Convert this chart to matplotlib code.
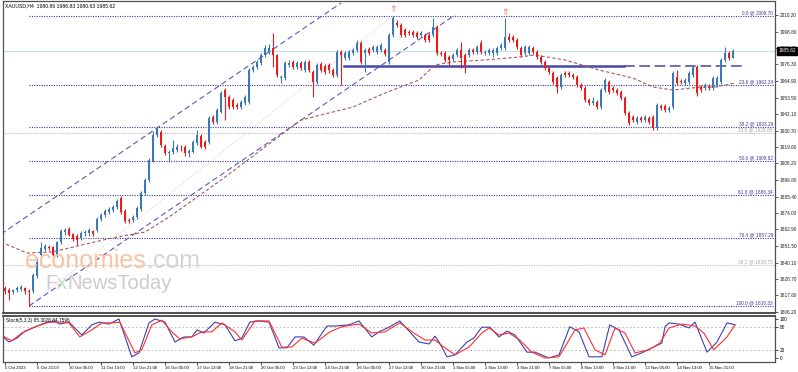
import matplotlib.pyplot as plt
import matplotlib.transforms as mtransforms
import numpy as np

plt.rcParams['font.family'] = ['Liberation Sans', 'DejaVu Sans']

# ---- candle data (XAUUSD H4) ----
opens = [1822.6, 1821.3, 1819.9, 1821.3, 1822.0, 1822.6, 1820.6, 1820.6, 1830.9, 1845.3,
         1849.4, 1850.8, 1850.8, 1845.3, 1854.2, 1861.1, 1863.2, 1859.7, 1858.4, 1857.0,
         1860.4, 1860.4, 1861.8, 1862.5, 1870.0, 1872.8, 1874.9, 1876.2, 1878.3, 1884.5,
         1875.5, 1869.4, 1869.4, 1871.4, 1876.9, 1887.9, 1896.8, 1909.9, 1927.8, 1929.8,
         1920.2, 1915.4, 1916.1, 1917.5, 1919.5, 1919.5, 1915.4, 1916.1, 1922.3, 1927.1,
         1922.9, 1922.9, 1940.1, 1936.7, 1943.6, 1958.7, 1953.9, 1951.8, 1948.4, 1947.0,
         1949.7, 1950.4, 1972.4, 1974.5, 1977.2, 1982.7, 1984.8, 1987.5, 1982.7, 1966.9,
         1966.9, 1975.8, 1977.9, 1974.5, 1977.2, 1972.4, 1977.9, 1971.0, 1964.2, 1976.5,
         1975.2, 1975.8, 1972.4, 1969.0, 1984.8, 1980.7, 1980.7, 1984.1, 1986.2, 1991.0,
         1984.1, 1986.8, 1986.2, 1984.8, 1986.2, 1986.2, 1977.9, 1996.5, 2004.7, 2003.3,
         1999.9, 1998.5, 1998.5, 1997.8, 1996.5, 1996.5, 1996.5, 1996.5, 2002.0, 1984.1,
         1984.1, 1981.3, 1980.0, 1982.7, 1986.2, 1982.7, 1982.7, 1986.2, 1984.8, 1991.0,
         1984.1, 1984.1, 1984.1, 1984.1, 1987.5, 1987.5, 1995.1, 1995.1, 1993.0, 1987.5,
         1984.1, 1984.1, 1987.5, 1984.8, 1981.3, 1977.9, 1973.8, 1970.3, 1966.9, 1960.7,
         1970.3, 1970.3, 1969.0, 1967.6, 1962.1, 1960.0, 1951.8, 1949.7, 1950.4, 1947.0,
         1958.7, 1964.2, 1960.0, 1958.7, 1957.3, 1953.2, 1942.9, 1940.1, 1936.7, 1939.4,
         1938.1, 1939.4, 1940.1, 1932.6, 1947.7, 1947.7, 1944.9, 1947.0, 1967.6, 1964.9,
         1963.5, 1964.2, 1969.0, 1974.5, 1960.7, 1960.0, 1961.4, 1960.0, 1962.1, 1964.2,
         1979.3, 1984.1, 1980.86]
highs = [1824.0, 1822.6, 1822.0, 1824.0, 1824.7, 1823.3, 1822.0, 1833.0, 1843.3, 1854.2,
         1852.9, 1852.2, 1851.5, 1854.9, 1863.2, 1863.9, 1864.5, 1860.4, 1859.7, 1861.8,
         1862.5, 1863.9, 1862.5, 1871.4, 1874.2, 1876.9, 1878.3, 1879.7, 1883.8, 1885.8,
         1876.9, 1870.7, 1872.8, 1879.0, 1889.3, 1898.2, 1912.0, 1930.5, 1933.3, 1931.2,
         1921.6, 1917.5, 1924.3, 1921.6, 1920.9, 1920.9, 1918.1, 1924.3, 1931.2, 1928.5,
         1924.3, 1940.8, 1941.5, 1946.3, 1958.0, 1960.0, 1955.2, 1953.2, 1949.7, 1951.8,
         1955.2, 1973.8, 1975.8, 1979.3, 1984.1, 1989.6, 1990.3, 1997.8, 1983.4, 1969.0,
         1978.6, 1979.3, 1979.3, 1978.6, 1978.6, 1979.3, 1979.3, 1972.4, 1977.2, 1977.9,
         1976.5, 1977.2, 1973.8, 1986.2, 1986.2, 1985.5, 1986.2, 1987.5, 1993.0, 1992.3,
         1987.5, 1988.2, 1989.6, 1989.6, 1991.0, 1987.5, 1997.8, 2009.7, 2006.8, 2004.7,
         2001.3, 1999.9, 1999.9, 1999.2, 1999.2, 1997.8, 1997.8, 2008.1, 2003.3, 1985.5,
         1985.5, 1982.7, 1984.1, 1987.5, 1991.6, 1984.1, 1987.5, 1987.5, 1989.6, 1993.0,
         1986.2, 1987.5, 1987.5, 1988.9, 1991.0, 2008.1, 1997.8, 1996.5, 1994.4, 1988.9,
         1989.6, 1989.6, 1988.9, 1986.2, 1982.7, 1979.3, 1975.2, 1971.7, 1968.3, 1970.3,
         1971.7, 1971.7, 1970.3, 1969.0, 1963.5, 1961.4, 1953.2, 1953.9, 1951.8, 1960.0,
         1966.9, 1965.5, 1961.4, 1960.0, 1958.7, 1954.6, 1944.2, 1941.5, 1940.8, 1940.8,
         1941.5, 1940.8, 1941.5, 1949.7, 1949.0, 1949.0, 1947.7, 1971.7, 1972.4, 1966.2,
         1966.9, 1971.7, 1975.8, 1975.8, 1962.1, 1963.5, 1962.8, 1968.3, 1968.3, 1980.7,
         1988.2, 1985.5, 1986.83]
lows = [1818.5, 1814.4, 1818.5, 1819.9, 1820.6, 1818.5, 1810.33, 1819.2, 1829.5, 1843.9,
        1848.1, 1848.8, 1844.6, 1843.9, 1852.9, 1859.1, 1858.4, 1854.9, 1852.2, 1855.6,
        1858.4, 1858.4, 1858.4, 1861.1, 1868.7, 1871.4, 1873.5, 1874.9, 1876.9, 1873.5,
        1867.3, 1867.3, 1868.0, 1870.0, 1875.5, 1886.5, 1895.5, 1909.2, 1926.4, 1919.5,
        1914.0, 1909.2, 1914.7, 1916.1, 1916.8, 1913.3, 1912.6, 1915.4, 1920.9, 1918.8,
        1918.1, 1921.6, 1935.3, 1935.3, 1942.9, 1938.1, 1945.6, 1945.6, 1945.6, 1945.6,
        1948.4, 1949.0, 1971.0, 1973.1, 1975.8, 1981.3, 1983.4, 1974.5, 1967.6, 1963.5,
        1965.5, 1974.5, 1973.1, 1973.1, 1972.4, 1971.0, 1971.0, 1953.9, 1962.8, 1971.0,
        1969.7, 1970.3, 1967.6, 1967.6, 1962.1, 1979.3, 1979.3, 1982.7, 1984.8, 1976.5,
        1971.0, 1982.7, 1984.8, 1983.4, 1984.8, 1982.0, 1976.5, 1995.1, 2002.0, 1995.1,
        1995.1, 1996.5, 1995.1, 1993.7, 1995.1, 1991.6, 1991.6, 1995.1, 1982.7, 1982.0,
        1977.9, 1975.8, 1978.6, 1981.3, 1973.8, 1970.3, 1981.3, 1983.4, 1983.4, 1983.4,
        1982.7, 1982.7, 1981.3, 1982.7, 1986.2, 1986.2, 1991.6, 1991.6, 1986.8, 1981.3,
        1982.7, 1982.7, 1983.4, 1980.0, 1976.5, 1972.4, 1969.7, 1962.8, 1956.6, 1959.4,
        1967.6, 1967.6, 1966.2, 1960.7, 1958.7, 1950.4, 1948.4, 1948.4, 1945.6, 1945.6,
        1957.3, 1955.9, 1957.3, 1955.2, 1951.8, 1941.5, 1934.6, 1936.7, 1935.3, 1936.7,
        1936.7, 1935.3, 1931.2, 1931.2, 1944.9, 1943.6, 1943.6, 1945.6, 1962.1, 1962.8,
        1962.1, 1962.8, 1967.6, 1954.6, 1957.3, 1958.7, 1958.7, 1958.7, 1960.7, 1962.8,
        1977.9, 1979.3, 1980.63]
closes = [1820.6, 1819.2, 1821.3, 1822.6, 1823.3, 1820.6, 1819.9, 1831.6, 1840.5, 1850.1,
          1851.5, 1850.1, 1845.3, 1854.2, 1861.8, 1862.5, 1859.1, 1856.3, 1855.6, 1860.4,
          1861.1, 1862.5, 1859.7, 1870.0, 1872.8, 1875.5, 1876.9, 1878.3, 1882.4, 1874.9,
          1868.7, 1868.7, 1871.4, 1877.6, 1887.9, 1896.8, 1910.6, 1927.8, 1931.9, 1920.9,
          1915.4, 1916.1, 1918.8, 1919.5, 1919.2, 1915.4, 1916.8, 1922.9, 1927.8, 1919.5,
          1919.5, 1939.4, 1936.7, 1944.9, 1956.6, 1953.9, 1947.0, 1947.0, 1947.0, 1950.4,
          1953.9, 1972.4, 1974.5, 1977.9, 1982.7, 1987.5, 1987.5, 1982.7, 1969.0, 1967.6,
          1977.2, 1977.2, 1974.5, 1977.2, 1973.8, 1977.9, 1972.4, 1964.2, 1975.8, 1972.4,
          1971.0, 1972.4, 1969.0, 1984.8, 1982.7, 1984.1, 1984.8, 1986.2, 1991.0, 1977.9,
          1986.2, 1984.1, 1988.2, 1988.2, 1989.6, 1983.4, 1996.5, 2008.1, 2003.3, 1996.5,
          1996.5, 1997.8, 1996.5, 1995.1, 1997.8, 1993.0, 1993.0, 2002.0, 1984.1, 1983.4,
          1979.3, 1979.3, 1982.7, 1986.2, 1980.7, 1975.8, 1986.2, 1984.8, 1988.2, 1984.8,
          1984.8, 1986.2, 1986.2, 1987.5, 1989.6, 1995.1, 1993.0, 1993.0, 1988.2, 1982.7,
          1988.2, 1988.2, 1984.8, 1981.3, 1977.9, 1973.8, 1971.0, 1964.2, 1960.7, 1969.0,
          1969.0, 1969.0, 1967.6, 1962.1, 1960.0, 1951.8, 1949.7, 1951.1, 1947.0, 1958.7,
          1965.5, 1957.3, 1958.7, 1956.6, 1953.2, 1942.9, 1936.0, 1938.1, 1939.4, 1938.1,
          1940.1, 1936.7, 1932.6, 1948.4, 1946.3, 1944.9, 1946.3, 1970.3, 1963.5, 1964.2,
          1965.5, 1970.3, 1974.5, 1956.6, 1958.7, 1962.1, 1960.0, 1966.9, 1966.9, 1979.3,
          1984.1, 1980.7, 1985.62]

# moving average (bar index, price)
ma_idx = [-1, 5.5, 11.7, 26.7, 35, 41, 54, 74, 87, 95, 103.5, 107.5, 112, 120, 128.5,
          132.5, 140, 148.5, 157, 162, 167, 174, 177.5, 182.5]
ma_val = [1854.2, 1846.7, 1847.4, 1857.0, 1861.1, 1871.4, 1896.8, 1938.1, 1947.0, 1956.6,
          1965.5, 1975.9, 1977.9, 1979.3, 1981.3, 1982.7, 1979.3, 1972.4, 1966.9, 1960.7,
          1958.7, 1960.7, 1960.7, 1963.4]

# fibonacci levels
fib_levels = [2009.70, 1962.34, 1933.29, 1909.82, 1886.34, 1857.29, 1810.33]
fib_names = ['0.0 @ 2009.70', '23.6 @ 1962.34', '38.2 @ 1933.29', '50.0 @ 1909.82',
             '61.8 @ 1886.34', '76.4 @ 1857.29', '100.0 @ 1810.33']
fib2_levels = [1928.85, 1838.75]
fib2_names = ['23.6 @ 1928.85', '38.2 @ 1838.75']

# stochastic (bar index, value)
k_idx = [-1, 1, 3, 5, 10, 12.2, 13.7, 16, 19.2, 21.7, 23.5, 26, 28.5, 31.7, 33.5, 36, 37.5,
         40, 42.5, 44.7, 46.7, 48, 49.7, 52.5, 55, 57.5, 59.2, 61.2, 63.5, 66, 68.5, 70.5,
         72.5, 74.7, 77.2, 80.5, 82.5, 86, 88.5, 91.7, 93.5, 96, 98.7, 101.2, 103.5, 106,
         107.5, 108.5, 110.5, 112.5, 115.5, 117.2, 119.2, 121.2, 123.5, 125.5, 127.5, 130.5,
         132.5, 136, 138.5, 141.2, 143.5, 146, 149.2, 151.2, 153.5, 156.7, 159.2, 161.7,
         164.2, 165, 166, 168.5, 171, 172.5, 175.5, 178, 180.5, 182.5]
k_val = [59, 41, 51, 69, 90, 95, 87, 92, 59, 85, 92, 87, 100, 3, 13, 90, 100,
         92, 41, 54, 54, 72, 64, 92, 85, 44, 51, 92, 95, 92, 26, 26,
         54, 54, 33, 82, 82, 85, 95, 54, 67, 79, 95, 67, 41, 36,
         56, 41, 3, 8, 41, 51, 79, 79, 54, 69, 59, 15,
         15, 0, 8, 80, 67, 3, 3, 85, 72, 3, 13, 26,
         38, 80, 90, 87, 77, 92, 15, 41, 90, 85.3]
d_idx = [-1, 1.7, 4.2, 7.5, 11, 14.7, 16, 18.7, 21.7, 24.2, 26.7, 28.7, 32.5, 34.2, 36.7,
         39.2, 41.7, 43.7, 46.7, 49.2, 51.7, 54.2, 57.5, 59.2, 62.5, 66, 69.2, 71.7, 74.2,
         77.5, 81.2, 84.2, 88.5, 91.7, 95, 98.7, 102.2, 105, 107.5, 109.7, 112.5, 116,
         119.2, 121, 123.5, 126, 128.7, 131.7, 135, 138.5, 142.5, 144.7, 147.5, 150,
         152.5, 155, 157.5, 161, 163.7, 166, 169.2, 172.5, 174.7, 177.2, 180.5, 182.5]
d_val = [59, 44, 64, 80, 92, 92, 90, 54, 72, 90, 90, 92, 13, 21, 85,
         97, 67, 49, 54, 67, 67, 90, 67, 46, 95, 95, 28, 28, 51,
         38, 67, 80, 87, 64, 67, 90, 64, 46, 46, 28, 8, 28,
         64, 77, 59, 64, 46, 15, 0, 3, 72, 77, 21, 8,
         77, 64, 13, 21, 38, 77, 87, 82, 64, 21, 54, 84.76]

price_ticks = [2010.20, 1998.80, 1987.40, 1976.30, 1964.90, 1953.50, 1942.10, 1930.70,
               1919.60, 1908.20, 1896.80, 1885.40, 1874.00, 1862.90, 1851.50, 1840.10,
               1828.70, 1817.60, 1806.20]
time_labels = ['5 Oct 2023', '6 Oct 21:00', '10 Oct 05:00', '11 Oct 13:00', '12 Oct 21:00',
               '16 Oct 05:00', '17 Oct 13:00', '18 Oct 21:00', '20 Oct 05:00', '23 Oct 13:00',
               '24 Oct 21:00', '26 Oct 05:00', '27 Oct 13:00', '30 Oct 21:00', '1 Nov 05:00',
               '2 Nov 13:00', '3 Nov 21:00', '7 Nov 05:00', '8 Nov 13:00', '9 Nov 21:00',
               '13 Nov 05:00', '14 Nov 13:00', '15 Nov 21:00']

W, H = 798, 372
FS = 3.4
NAVY = '#3a3aa0'
BULL = '#3a78b8'
BEAR = '#f01818'


def box(x0, y0, x1, y1):
    return [x0 / W, 1 - y1 / H, (x1 - x0) / W, (y1 - y0) / H]


fig = plt.figure(figsize=(W / 100, H / 100), dpi=100)
ax = fig.add_axes(box(3, 1, 775, 313))
ax2 = fig.add_axes(box(3, 316, 775, 362), sharex=ax)

o = np.array(opens); h = np.array(highs); l = np.array(lows); c = np.array(closes)
idx = np.arange(len(c))
up = c >= o
cols = np.where(up, BULL, BEAR)

# watermark
fig.text(25 / W, 1 - 268 / H, 'economies', fontsize=18, color='#f9c4a4', zorder=0)
fig.text(147 / W, 1 - 268 / H, '.com', fontsize=18, color='#d4d4d4', zorder=0)
fig.text(45 / W, 1 - 289 / H, 'F', fontsize=14.5, color='#cccccc')
fig.text(57 / W, 1 - 289 / H, 'x', fontsize=14.5, color='#c4e2bc')
fig.text(67 / W, 1 - 289 / H, 'NewsToday', fontsize=14.5, color='#cccccc')

ax.set_xlim(-0.5, 192.5)
ax.set_ylim(1805.5, 2019.8)
ax.patch.set_alpha(0)

# current price line
ax.axhline(closes[-1], color='#bfe4e4', lw=0.8, zorder=1)

# fib levels
fib_start = 6
for lv, nm in zip(fib_levels, fib_names):
    ax.plot([fib_start, 192.5], [lv, lv], color=NAVY, lw=0.8, ls=(0, (1, 1.2)), zorder=2)
    ax.text(192.0, lv + 0.5, nm, fontsize=FS, color=NAVY, ha='right', va='bottom')
for lv, nm in zip(fib2_levels, fib2_names):
    ax.axhline(lv, color='#b8b8b8', lw=0.8, ls=(0, (1, 1.2)), zorder=2)
    ax.text(192.0, lv + 0.5, nm, fontsize=FS, color='#a8a8a8', ha='right', va='bottom')

# fib trend line (low -> high)
ax.plot([6, 97], [1810.33, 2009.70], color='#e0cccc', lw=0.7, ls=(0, (1, 1.5)), zorder=2)

# channel
ax.plot([-1, 84], [1859.7, 2018.4], color='#5a5ab8', lw=0.8, ls=(0, (5, 3)), zorder=2)
ax.plot([6, 112.5], [1810.33, 2010.2], color='#5a5ab8', lw=0.8, ls=(0, (5, 3)), zorder=2)

# horizontal support
ax.plot([84.7, 154.7], [1975.2, 1975.2], color='#4848a8', lw=1.8, zorder=3)
ax.plot([154.7, 184.7], [1975.2, 1975.2], color='#4848a8', lw=1.1, ls=(0, (7, 3)), zorder=3)

# moving average
ax.plot(ma_idx, ma_val, color='#a85858', lw=0.8, ls=(0, (3, 2)), zorder=3)

# candles
ax.vlines(idx, l, h, colors=cols, lw=0.8, zorder=4)
body = np.maximum(np.abs(c - o), 0.35)
ax.bar(idx, body, bottom=np.minimum(o, c), width=0.72, color=cols, lw=0, zorder=5)

# fractal marks
ax.text(97, 2010.8, '⇑', fontsize=6.5, color='#f07050', ha='center', va='bottom',
        family='DejaVu Sans')
ax.text(125, 2009.1, '⇑', fontsize=6.5, color='#f07050', ha='center', va='bottom',
        family='DejaVu Sans')

# header
ax.text(0.003, 0.993, 'XAUUSD,H4  1980.86 1986.83 1980.63 1985.62', transform=ax.transAxes,
        fontsize=3.7, color='black', ha='left', va='top')

ax.yaxis.tick_right()
ax.set_yticks(price_ticks)
ax.set_yticklabels(['%.2f' % t for t in price_ticks])
ax.tick_params(axis='y', labelsize=FS, length=2, width=0.5, pad=1.5, colors='#202020')
ax.tick_params(axis='x', bottom=False, labelbottom=False)

# price box (covers the tick label behind it, as in the terminal)
tr = mtransforms.blended_transform_factory(ax.transAxes, ax.transData)
ax.text(1.004, closes[-1], '%.2f' % closes[-1], transform=tr, fontsize=FS, color='white',
        ha='left', va='center', clip_on=False, zorder=10,
        bbox=dict(boxstyle='square,pad=0.3', fc='black', ec='black'))

for a in (ax, ax2):
    for s in a.spines.values():
        s.set_color('#505050')
        s.set_linewidth(0.9)
ax.spines['bottom'].set_linewidth(1.4)
ax2.spines['top'].set_linewidth(1.4)

# stochastic
ax2.set_ylim(-10.3, 107.7)
ax2.axhline(80, color='#c0c0c0', lw=0.7, ls=(0, (2, 2)))
ax2.axhline(20, color='#c0c0c0', lw=0.7, ls=(0, (2, 2)))
ax2.plot(k_idx, k_val, color='#4040b0', lw=0.8)
ax2.plot(d_idx, d_val, color='#ff3030', lw=0.8)
ax2.text(0.004, 0.95, 'Stoch(5,3,3) 85.3028 84.7596', transform=ax2.transAxes,
         fontsize=FS, ha='left', va='top')
ax2.yaxis.tick_right()
ax2.set_yticks([0, 20, 80, 100])
ax2.set_yticklabels(['0', '20', '80', '100'])
ax2.tick_params(axis='y', labelsize=FS, length=2, width=0.5, pad=1.5)
ax2.set_xticks(np.arange(len(time_labels)) * 8)
ax2.set_xticklabels(time_labels)
ax2.tick_params(axis='x', labelsize=3.1, length=2, width=0.5, pad=1.2)
for t in ax2.get_xticklabels():
    t.set_ha('left')

fig.savefig('out.png', dpi=100)
